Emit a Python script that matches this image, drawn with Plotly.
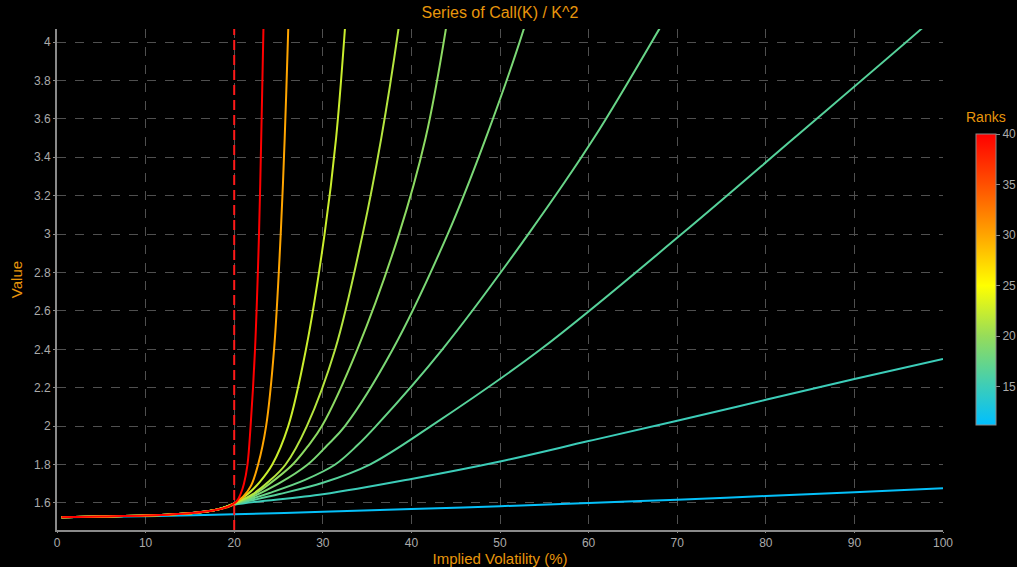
import plotly.graph_objects as go
from plotly.colors import sample_colorscale

# ---------------- data ----------------
title_text = "Series of Call(K) / K^2"
colorbar_title = "Ranks"
atm_vol = 20  # red dashed reference line (Implied Volatility %)

ranks = [11.5, 15, 16.5, 17.5, 18.5, 19.5, 21.5, 22.5, 30, 40]

iv_r11 = [0.5, 10, 20, 30, 40, 50, 60, 70, 80, 90, 100]
val_r11 = [1.525, 1.531, 1.541, 1.554, 1.568, 1.583, 1.600, 1.617, 1.636, 1.655, 1.676]

iv_r15 = [0.5, 5, 10, 15, 18, 20, 30, 40, 50, 60, 70, 80, 90, 100]
val_r15 = [1.525, 1.529, 1.534, 1.546, 1.564, 1.590, 1.645, 1.725, 1.816, 1.922, 2.028,
           2.137, 2.245, 2.350]

iv_r16 = [0.5, 5, 10, 15, 18, 20, 25, 30, 35.3, 42.2, 54.6, 70.5, 83.2, 97.6, 100]
val_r16 = [1.525, 1.529, 1.534, 1.546, 1.564, 1.592, 1.645, 1.705, 1.800, 2.000, 2.400,
           3.000, 3.500, 4.070, 4.170]

iv_r17 = [0.5, 5, 10, 15, 18, 20, 24, 28, 31.4, 33.9, 36.0, 43.5, 53.2, 60.6, 68.0, 69.0]
val_r17 = [1.525, 1.529, 1.534, 1.546, 1.564, 1.594, 1.652, 1.720, 1.800, 1.900, 2.000,
           2.400, 3.000, 3.500, 4.070, 4.150]

iv_r18 = [0.5, 5, 10, 15, 18, 20, 22, 25, 28.3, 30.5, 32.5, 37.9, 44.1, 48.4, 52.7, 53.5]
val_r18 = [1.525, 1.529, 1.534, 1.546, 1.564, 1.595, 1.630, 1.700, 1.800, 1.900, 2.000,
           2.400, 3.000, 3.500, 4.070, 4.200]

iv_r19 = [0.5, 5, 10, 15, 18, 20, 22, 24, 26.6, 28.4, 29.9, 33.9, 38.6, 41.6, 43.9, 44.6]
val_r19 = [1.525, 1.529, 1.534, 1.546, 1.564, 1.596, 1.637, 1.700, 1.800, 1.900, 2.000,
           2.400, 3.000, 3.500, 4.070, 4.300]

iv_r21 = [0.5, 5, 10, 15, 18, 20, 22, 24, 25.8, 28.2, 31.4, 34.5, 36.6, 38.55, 39.2]
val_r21 = [1.525, 1.529, 1.534, 1.546, 1.564, 1.597, 1.643, 1.715, 1.800, 2.000, 2.400,
           3.000, 3.500, 4.070, 4.300]

iv_r23 = [0.5, 5, 10, 15, 18, 20, 21.5, 22.9, 24.3, 26.1, 28.1, 30.2, 31.5, 32.5, 32.9]
val_r23 = [1.525, 1.529, 1.534, 1.546, 1.564, 1.598, 1.645, 1.710, 1.800, 2.000, 2.400,
           3.000, 3.500, 4.070, 4.350]

iv_r30 = [0.5, 5, 10, 15, 18, 19.5, 20, 21, 21.9, 22.7, 23.6, 24.5, 25.25, 25.7, 26.1, 26.35]
val_r30 = [1.525, 1.529, 1.534, 1.546, 1.564, 1.582, 1.598, 1.632, 1.690, 1.800, 2.000,
           2.400, 3.000, 3.500, 4.070, 4.450]

iv_r40 = [0.5, 5, 10, 15, 18, 19.5, 20.3, 20.75, 21.1, 21.5, 21.85, 22.35, 22.8, 23.05,
          23.3, 23.45]
val_r40 = [1.525, 1.529, 1.534, 1.546, 1.564, 1.585, 1.610, 1.650, 1.700, 1.800, 2.000,
           2.400, 3.000, 3.500, 4.070, 4.400]

series_iv = [iv_r11, iv_r15, iv_r16, iv_r17, iv_r18, iv_r19, iv_r21, iv_r23, iv_r30, iv_r40]
series_val = [val_r11, val_r15, val_r16, val_r17, val_r18, val_r19, val_r21, val_r23, val_r30, val_r40]

x_ticks = [0, 10, 20, 30, 40, 50, 60, 70, 80, 90, 100]
y_ticks = [1.6, 1.8, 2, 2.2, 2.4, 2.6, 2.8, 3, 3.2, 3.4, 3.6, 3.8, 4]
rank_ticks = [15, 20, 25, 30, 35, 40]

# ---------------- styling ----------------
rank_min, rank_max = 11.2, 40
stops = [(11.2, "rgb(0,191,255)"), (15, "rgb(60,205,185)"), (17, "rgb(95,212,145)"),
         (20, "rgb(150,220,90)"), (25, "rgb(255,255,0)"), (30, "rgb(255,165,0)"),
         (35, "rgb(255,80,0)"), (40, "rgb(255,0,0)")]
colorscale = [[(r - rank_min) / (rank_max - rank_min), c] for r, c in stops]

ORANGE = "#e8960c"
GRID = "#505050"
TICK = "#ababab"
AXIS = "#8a8a8a"
FONT = "Liberation Sans, Arial, sans-serif"

fig = go.Figure()

for rk, xs, ys in zip(ranks, series_iv, series_val):
    col = sample_colorscale(colorscale, [(rk - rank_min) / (rank_max - rank_min)])[0]
    fig.add_trace(go.Scatter(x=xs, y=ys, mode="lines",
                             line=dict(color=col, width=2, shape="spline", smoothing=1.0),
                             showlegend=False, hoverinfo="skip"))

# colorbar carrier
fig.add_trace(go.Scatter(
    x=[None], y=[None], mode="markers", showlegend=False, hoverinfo="skip",
    marker=dict(color=[rank_min], cmin=rank_min, cmax=rank_max, colorscale=colorscale,
                showscale=True,
                colorbar=dict(x=1.026, xanchor="left", y=0.5, yanchor="middle",
                              len=0.621, lenmode="fraction", thickness=20,
                              outlinecolor=AXIS, outlinewidth=1,
                              tickvals=rank_ticks, ticks="outside", ticklen=4,
                              tickcolor=AXIS,
                              tickfont=dict(color=TICK, size=12, family=FONT)))))

fig.add_annotation(text=colorbar_title, xref="paper", yref="paper", x=1.0485, y=0.824,
                   xanchor="center", yanchor="middle", showarrow=False,
                   font=dict(color=ORANGE, size=14, family=FONT))

fig.add_vline(x=atm_vol, line=dict(color="#ff1a1a", width=2, dash="10px,5px"))

fig.update_layout(
    width=1017, height=567,
    paper_bgcolor="black", plot_bgcolor="black",
    margin=dict(l=57, r=74, t=29, b=37, autoexpand=False),
    title=dict(text=title_text, x=0.5, xref="paper", y=0.988, yref="container",
               yanchor="top", font=dict(color=ORANGE, size=16, family=FONT)),
    font=dict(family=FONT),
)
fig.update_xaxes(range=[0, 100], tickvals=x_ticks, showgrid=True, gridcolor=GRID,
                 griddash="dash", gridwidth=1, zeroline=False, automargin=False,
                 showline=True, linecolor=AXIS, linewidth=2,
                 ticks="outside", ticklen=1, tickcolor=AXIS,
                 tickfont=dict(color=TICK, size=12, family=FONT),
                 title=dict(text="Implied Volatility (%)", standoff=0,
                            font=dict(color=ORANGE, size=15, family=FONT)))
fig.update_yaxes(range=[1.459, 4.068], tickvals=y_ticks, showgrid=True, gridcolor=GRID,
                 griddash="dash", gridwidth=1, zeroline=False, automargin=False,
                 showline=True, linecolor=AXIS, linewidth=2,
                 ticks="outside", ticklen=2, tickcolor=AXIS,
                 tickfont=dict(color=TICK, size=12, family=FONT),
                 title=dict(text="Value", standoff=8,
                            font=dict(color=ORANGE, size=15, family=FONT)))

fig.write_html(
    "out.html",
    config={"displayModeBar": False},
    post_script="document.body.style.margin='0';document.body.style.overflow='hidden';"
                "document.body.style.background='black';",
)
